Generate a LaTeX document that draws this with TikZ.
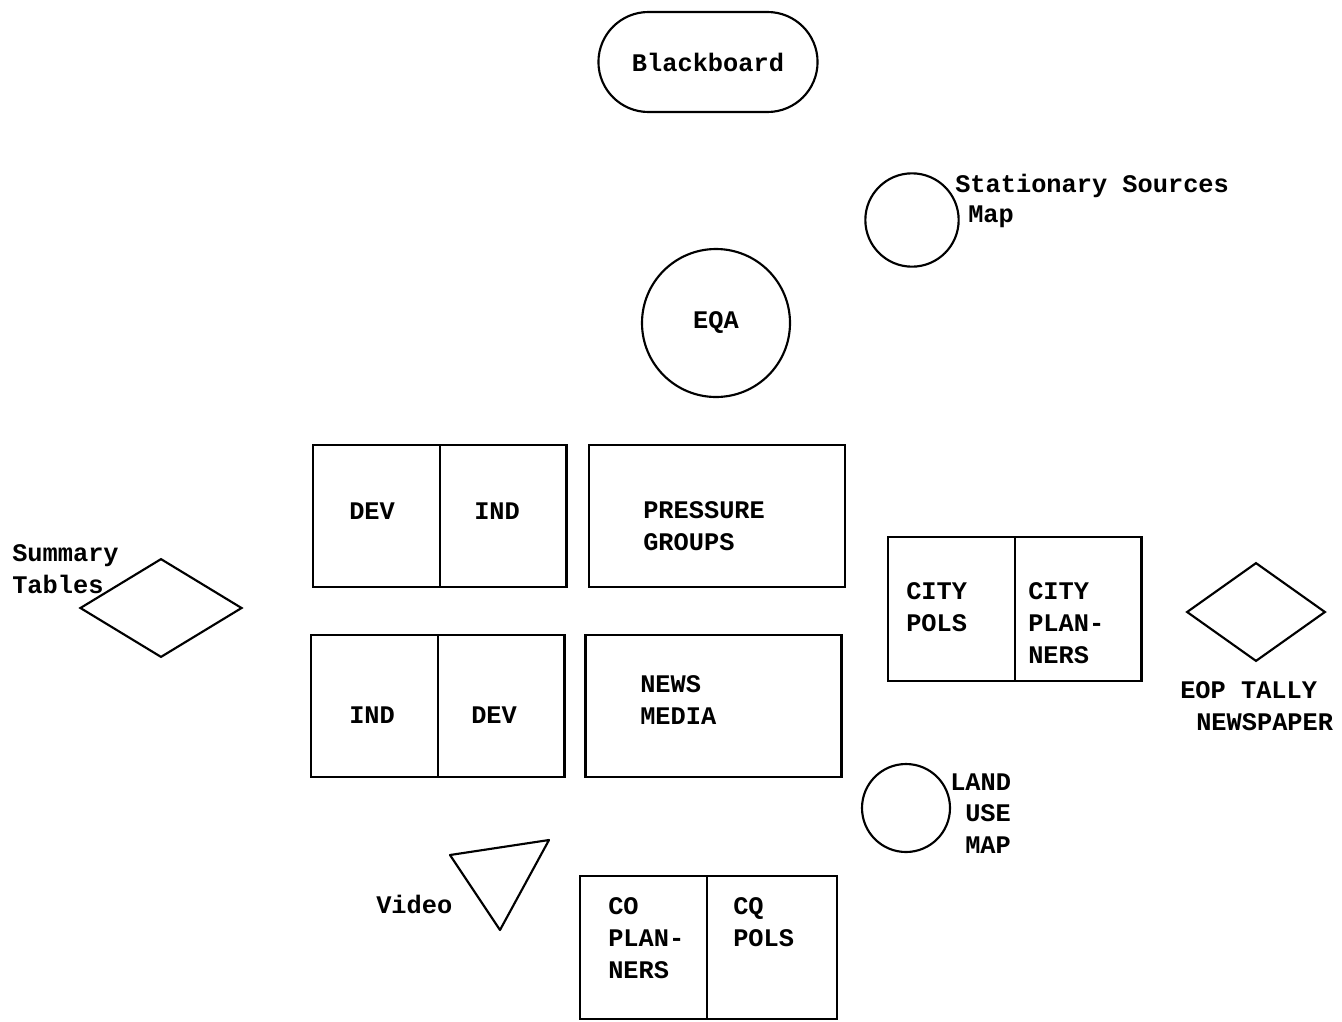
\documentclass[tikz,border=0pt]{standalone}
\usepackage{fontspec}
\setmonofont{Liberation Mono}
\usetikzlibrary{positioning,shapes.geometric,shapes.misc}

\tikzset{
  every node/.style={font=\ttfamily\bfseries\fontsize{19}{23.8}\selectfont},
  outline/.style={draw, line width=1.6pt},
  cell/.style={outline, outer sep=0pt, inner sep=0pt, minimum width=95pt, minimum height=107pt},
  widecell/.style={cell, minimum width=192pt},
  disc/.style={outline, circle, inner sep=0pt},
  rhomb/.style={outline, diamond, inner sep=0pt, minimum height=74pt},
  tag/.style={anchor=base west, inner sep=0pt, align=left}
}

\begin{document}
\begin{tikzpicture}[x=0.75pt,y=-0.75pt]
  \useasboundingbox (0,0) rectangle (1342,1021);

  % top row
  \node[outline, rounded rectangle, minimum width=171pt, minimum height=75pt] (board) at (708,62) {Blackboard};
  \node[disc, minimum size=70pt] (statmap) at (912,220) {};
  \node[tag] (statmap-t) at (955,192) {Stationary Sources};
  \node[tag] (statmap-m) at (968,222) {Map};
  \node[disc, minimum size=111pt] (eqa) at (716,323) {EQA};

  % actor boxes
  \node[cell] (devA) at (376.5,516) {};
  \node[cell, right=0pt of devA] (indA) {};
  \node[widecell] (press) at (717,516) {};
  \node[cell] (indB) at (374.5,706) {};
  \node[cell, right=0pt of indB] (devB) {};
  \node[widecell] (news) at (713.5,706) {};
  \node[cell, minimum height=108pt] (citypols) at (951.5,609) {};
  \node[cell, minimum height=108pt, right=0pt of citypols] (cityplan) {};
  \node[cell] (coplan) at (643.5,947.5) {};
  \node[cell, minimum width=97.5pt, right=0pt of coplan] (copols) {};

  % base of a tag = base of its last line
  \node[tag] (devA-t) at (349,519) {DEV};
  \node[tag] (indA-t) at (474,519) {IND};
  \node[tag] (press-t) at (643,550) {PRESSURE\\GROUPS};
  \node[tag] (indB-t) at (349,723) {IND};
  \node[tag] (devB-t) at (471,723) {DEV};
  \node[tag] (news-t) at (640,724) {NEWS\\MEDIA};
  \node[tag] (citypols-t) at (906,631) {CITY\\POLS};
  \node[tag] (cityplan-t) at (1028,663) {CITY\\PLAN-\\NERS};
  \node[tag] (coplan-t) at (608,978) {CO\\PLAN-\\NERS};
  \node[tag] (copols-t) at (733,946) {CQ\\POLS};

  % displays
  \node[rhomb, minimum width=121.5pt] (summ) at (161,608) {};
  \node[tag] (summ-t) at (12,593) {Summary\\Tables};
  \node[rhomb, minimum width=104pt] (eop) at (1256,612) {};
  \node[tag] (eop-t) at (1180,698) {EOP TALLY};
  \node[tag] (eop-n) at (1196,730) {NEWSPAPER};
  \node[disc, minimum size=66pt] (landuse) at (906,808) {};
  \node[tag] (landuse-t) at (950,790) {LAND};
  \node[tag] (landuse-u) at (965,853) {USE\\MAP};

  \coordinate (vidA) at (450,855);
  \coordinate (vidB) at (549,840);
  \coordinate (vidC) at (500,930);
  \draw[line width=1.6pt, line join=round] (vidA) -- (vidB) -- (vidC) -- cycle;
  \node[tag] (video-t) at (376,913) {Video};
\end{tikzpicture}
\end{document}
